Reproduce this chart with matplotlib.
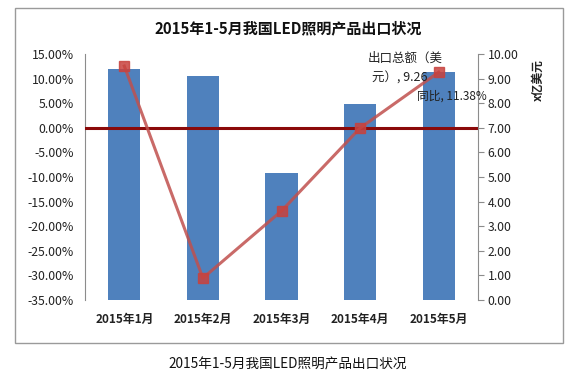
import matplotlib
matplotlib.use("Agg")
import matplotlib.pyplot as plt
from matplotlib.patches import Rectangle
from matplotlib.ticker import FuncFormatter

plt.rcParams['font.family'] = ['Noto Sans CJK SC', 'DejaVu Sans']

categories = ["2015年1月", "2015年2月", "2015年3月", "2015年4月", "2015年5月"]
yoy_pct = [11.95, 10.5, -9.2, 4.8, 11.38]          # 同比 (%)
export_total = [9.51, 0.89, 3.62, 6.99, 9.26]      # 出口总额 (亿美元)
left_ticks = [15, 10, 5, 0, -5, -10, -15, -20, -25, -30, -35]
right_ticks = [0, 1, 2, 3, 4, 5, 6, 7, 8, 9, 10]

W, H = 575, 385
fig = plt.figure(figsize=(W / 100, H / 100), dpi=100)
fig.patch.set_facecolor("white")

# outer chart frame
fig.patches.append(Rectangle((15 / W, 1 - 343 / H), (563 - 15) / W, (343 - 8) / H,
                             transform=fig.transFigure, fill=False,
                             edgecolor="#9a9a9a", linewidth=1.0))

ax = fig.add_axes([85 / W, 1 - 300 / H, 393 / W, 246 / H])
ax2 = ax.twinx()

x = list(range(len(categories)))
bottom = -35
ax.bar(x, [v - bottom for v in yoy_pct], bottom=bottom, width=0.41,
       color="#4F81BD", zorder=2)
ax.set_ylim(-35, 15)
ax.set_xlim(-0.5, len(categories) - 0.5)
ax.set_yticks(left_ticks)
ax.yaxis.set_major_formatter(FuncFormatter(lambda v, p: f"{v:.2f}%"))
ax.tick_params(axis="y", length=0, labelsize=8.8, colors="#222222", pad=8)
ax.set_xticks(x)
ax.set_xticklabels(categories, fontsize=8.5, fontweight="bold", color="#222222")
ax.tick_params(axis="x", length=0, pad=9)
for s in ["top", "right", "bottom"]:
    ax.spines[s].set_visible(False)
ax.spines["left"].set_color("#8c8c8c")

# zero line
ax.axhline(0, color="#8B0A0A", linewidth=2.2, zorder=3)

ax2.plot(x, export_total, color="#C0504D", alpha=0.85, linewidth=2.2,
         marker="s", markersize=6.5, markerfacecolor="#C8423E",
         markeredgecolor="#C8423E", zorder=4)
ax2.set_ylim(0, 10)
ax2.set_yticks(right_ticks)
ax2.yaxis.set_major_formatter(FuncFormatter(lambda v, p: f"{v:.2f}"))
ax2.tick_params(axis="y", length=4, color="#8c8c8c", labelsize=8.8,
                colors="#222222", pad=3)
for s in ["top", "left", "bottom"]:
    ax2.spines[s].set_visible(False)
ax2.spines["right"].set_color("#8c8c8c")

# right axis title
fig.text(538 / W, 1 - 80 / H, "x亿美元", rotation=90, fontsize=8.5,
         fontweight="bold", ha="center", va="center", color="#222222")

# data labels
fig.text(405 / W, 1 - 58 / H, "出口总额（美", fontsize=9, ha="center",
         va="center", color="#222222")
fig.text(400 / W, 1 - 78 / H, "元）, 9.26", fontsize=9, ha="center",
         va="center", color="#222222")
fig.text(452 / W, 1 - 96 / H, "同比, 11.38%", fontsize=8.5, ha="center",
         va="center", color="#222222")

# title
fig.text(288 / W, 1 - 28 / H, "2015年1-5月我国LED照明产品出口状况", fontsize=10.8,
         fontweight="bold", ha="center", va="center", color="#111111")

# caption below
fig.text(288 / W, 1 - 364 / H, "2015年1-5月我国LED照明产品出口状况", fontsize=9.8,
         ha="center", va="center", color="#111111")

fig.savefig("out.png", dpi=100, facecolor="white")
